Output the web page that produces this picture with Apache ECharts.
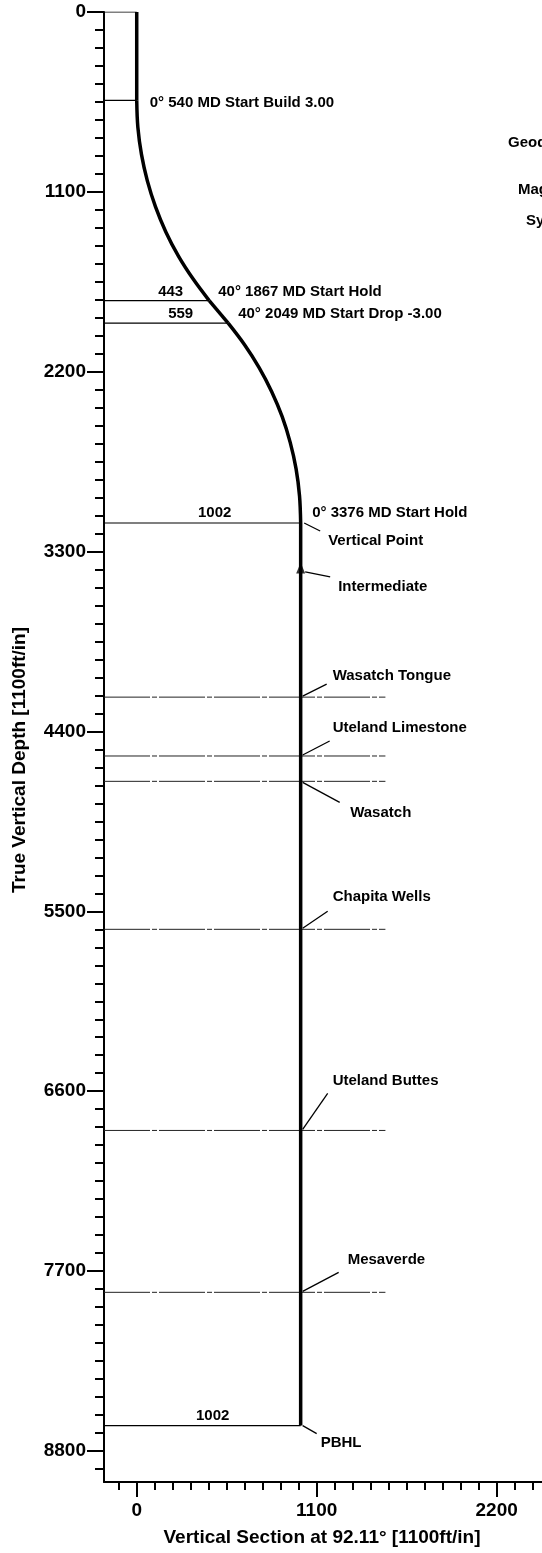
<!DOCTYPE html>
<html><head><meta charset="utf-8">
<script src="https://cdn.jsdelivr.net/npm/echarts@6/dist/echarts.min.js"></script>
<style>html,body{margin:0;padding:0;background:#fff}#c{width:542px;height:1553px}</style>
</head><body><div id="c"></div>
<script>
// ---- data (Vertical Section ft, True Vertical Depth ft) ----
const xMajorTicks = [0, 1100, 2200];
const yMajorTicks = [0, 1100, 2200, 3300, 4400, 5500, 6600, 7700, 8800];
const tickStep = 110;

const topVertical = [[0, 0], [0, 540]];
const buildArc = [[0, 540], [7, 706], [29, 871], [65, 1033], [115, 1192], [178, 1345], [255, 1493], [344, 1632], [443, 1765]];
const holdTangent = [[443, 1765], [559, 1903]];
const dropArc = [[559, 1903], [659, 2035], [748, 2175], [825, 2322], [889, 2475], [938, 2632], [974, 2794], [995, 2959], [1002, 3125]];
const bottomVertical = [[1002, 3125], [1002, 8645]];

// section (VS) reference lines: [VS, TVD]
const sectionPoints = [[0, 0], [0, 540], [443, 1765], [559, 1903], [1002, 3125], [1002, 8645]];

const formationNames = ['Wasatch Tongue', 'Uteland Limestone', 'Wasatch', 'Chapita Wells', 'Uteland Buttes', 'Mesaverde'];
const formationTvd = [4190, 4550, 4705, 5610, 6840, 7830];
const formationLineEnd = 1520;
const wellVs = 1002;
const casingPoint = [1002, 3400];
const pbhl = [1002, 8645];

const X_MIN = -200, X_MAX = 2477, Y_MIN = 0, Y_MAX = 8990;

const xMinorTicks = [];
for (let v = -110; v <= X_MAX; v += tickStep) xMinorTicks.push(v);
const yMinorTicks = [];
for (let v = 0; v <= Y_MAX; v += tickStep) yMinorTicks.push(v);

const chart = echarts.init(document.getElementById('c'), null, {renderer: 'canvas'});

const FONT = '"Liberation Sans", Arial, sans-serif';
const axisCommon = {
  type: 'value',
  splitLine: {show: false}
};
const plain = v => String(v);

const wellStyle = {color: '#000', width: 3.5};
function wellSeries(name, data, smooth) {
  return {name, type: 'line', data, smooth: smooth ? 0.35 : false, symbol: 'none',
    lineStyle: wellStyle, silent: true, z: 5, animation: false};
}

const series = [
  wellSeries('KOP', topVertical, false),
  wellSeries('Build 3.00', buildArc, true),
  wellSeries('Hold', holdTangent, false),
  wellSeries('Drop -3.00', dropArc, true),
  wellSeries('Vertical', bottomVertical, false)
];
sectionPoints.forEach((p, i) => {
  series.push({name: 'section' + i, type: 'line', data: [[X_MIN, p[1]], [p[0], p[1]]], symbol: 'none',
    lineStyle: {color: '#000', width: 1.2}, silent: true, z: 3});
});
formationNames.forEach((n, i) => {
  series.push({name: n, type: 'line', data: [[X_MIN, formationTvd[i]], [formationLineEnd, formationTvd[i]]], symbol: 'none',
    lineStyle: {color: '#222', width: 1, type: [46, 2, 5, 2]}, silent: true, z: 2});
});
series.push({name: 'Intermediate', type: 'scatter', data: [casingPoint], symbol: 'triangle', symbolSize: [9, 11],
  itemStyle: {color: '#000'}, silent: true, z: 6});

const option = {
  animation: false,
  backgroundColor: '#fff',
  grid: {left: 104, top: 12, bottom: 71, right: 0, containLabel: false},
  xAxis: [
    Object.assign({}, axisCommon, {
      min: X_MIN, max: X_MAX, position: 'bottom',
      axisLine: {show: true, onZero: false, lineStyle: {color: '#000', width: 2}},
      axisTick: {show: true, customValues: xMajorTicks, length: 15, lineStyle: {color: '#000', width: 2}},
      axisLabel: {show: true, customValues: xMajorTicks, formatter: plain, margin: 19, color: '#000', fontSize: 19, fontWeight: 'bold', fontFamily: FONT}
    }),
    Object.assign({}, axisCommon, {
      min: X_MIN, max: X_MAX, position: 'bottom',
      axisLine: {show: false, onZero: false},
      axisTick: {show: true, customValues: xMinorTicks, length: 8, lineStyle: {color: '#000', width: 2}},
      axisLabel: {show: false}
    })
  ],
  yAxis: [
    Object.assign({}, axisCommon, {
      min: Y_MIN, max: Y_MAX, inverse: true, position: 'left',
      axisLine: {show: true, onZero: false, lineStyle: {color: '#000', width: 2}},
      axisTick: {show: true, customValues: yMajorTicks, length: 17, lineStyle: {color: '#000', width: 2}},
      axisLabel: {show: true, customValues: yMajorTicks, formatter: plain, margin: 18, color: '#000', fontSize: 19, fontWeight: 'bold', fontFamily: FONT}
    }),
    Object.assign({}, axisCommon, {
      min: Y_MIN, max: Y_MAX, inverse: true, position: 'left', offset: 0,
      axisLine: {show: false, onZero: false},
      axisTick: {show: true, customValues: yMinorTicks, length: 9, lineStyle: {color: '#000', width: 2}},
      axisLabel: {show: false}
    })
  ],
  series: series.map(s => Object.assign({xAxisIndex: 0, yAxisIndex: 0}, s))
};
chart.setOption(option);

// ---- annotations placed from the chart's own scales ----
const annotations = [
  {text: '0° 540 MD Start Build 3.00', at: [0, 540], dx: 13, dy: 3},
  {text: '443', at: [443, 1765], dx: -26, dy: -9, align: 'right'},
  {text: '40° 1867 MD Start Hold', at: [443, 1765], dx: 9, dy: -9},
  {text: '559', at: [559, 1903], dx: -35, dy: -9, align: 'right'},
  {text: '40° 2049 MD Start Drop -3.00', at: [559, 1903], dx: 10, dy: -9},
  {text: '1002', at: [1002, 3125], dx: -86, dy: -10, align: 'center'},
  {text: '0° 3376 MD Start Hold', at: [1002, 3125], dx: 11.5, dy: -10},
  {text: 'Vertical Point', at: [1002, 3125], dx: 27.5, dy: 18, leader: [3.5, 0, 19.5, 8]},
  {text: 'Intermediate', at: casingPoint, dx: 37.5, dy: 19, leader: [4.5, 4, 29.5, 9]},
  {text: 'Wasatch Tongue', at: [wellVs, formationTvd[0]], dx: 32, dy: -21, leader: [2, -1, 26, -13]},
  {text: 'Uteland Limestone', at: [wellVs, formationTvd[1]], dx: 32, dy: -28, leader: [2, -1, 29, -15]},
  {text: 'Wasatch', at: [wellVs, formationTvd[2]], dx: 49.5, dy: 32, leader: [2, 1, 39, 21]},
  {text: 'Chapita Wells', at: [wellVs, formationTvd[3]], dx: 32, dy: -32, leader: [2, -1, 27, -18]},
  {text: 'Uteland Buttes', at: [wellVs, formationTvd[4]], dx: 32, dy: -50, leader: [2, -1, 27, -37]},
  {text: 'Mesaverde', at: [wellVs, formationTvd[5]], dx: 47, dy: -32, leader: [2, -1, 38, -20]},
  {text: '1002', at: pbhl, dx: -88, dy: -10, align: 'center'},
  {text: 'PBHL', at: pbhl, dx: 20, dy: 17, leader: [2, 0, 16, 8]}
];

const graphics = [];
annotations.forEach(a => {
  const p = chart.convertToPixel({xAxisIndex: 0, yAxisIndex: 0}, a.at);
  graphics.push({type: 'text', z: 10, style: {text: a.text, x: p[0] + a.dx, y: p[1] + a.dy,
    font: 'bold 15px ' + FONT, fill: '#000', textAlign: a.align || 'left', textVerticalAlign: 'middle'}});
  if (a.leader) {
    const l = a.leader;
    graphics.push({type: 'line', z: 10, shape: {x1: p[0] + l[0], y1: p[1] + l[1], x2: p[0] + l[2], y2: p[1] + l[3]},
      style: {stroke: '#000', lineWidth: 1.3}});
  }
});
// axis titles
graphics.push({type: 'text', z: 10, rotation: Math.PI / 2, x: 20, y: 760,
  style: {text: 'True Vertical Depth [1100ft/in]', x: 0, y: 0, font: 'bold 19px ' + FONT, fill: '#000', textAlign: 'center', textVerticalAlign: 'middle'}});
graphics.push({type: 'text', z: 10, style: {text: 'Vertical Section at 92.11° [1100ft/in]', x: 322, y: 1538,
  font: 'bold 19px ' + FONT, fill: '#000', textAlign: 'center', textVerticalAlign: 'middle'}});
// legend block cut off at the right edge of the sheet
const sideTexts = [['Geodetic System', 508, 143], ['Magnetic Model', 518, 190], ['System Datum', 526, 221]];
sideTexts.forEach(t => graphics.push({type: 'text', z: 10, style: {text: t[0], x: t[1], y: t[2],
  font: 'bold 15px ' + FONT, fill: '#000', textAlign: 'left', textVerticalAlign: 'middle'}}));

chart.setOption({graphic: graphics});
</script>
</body></html>
